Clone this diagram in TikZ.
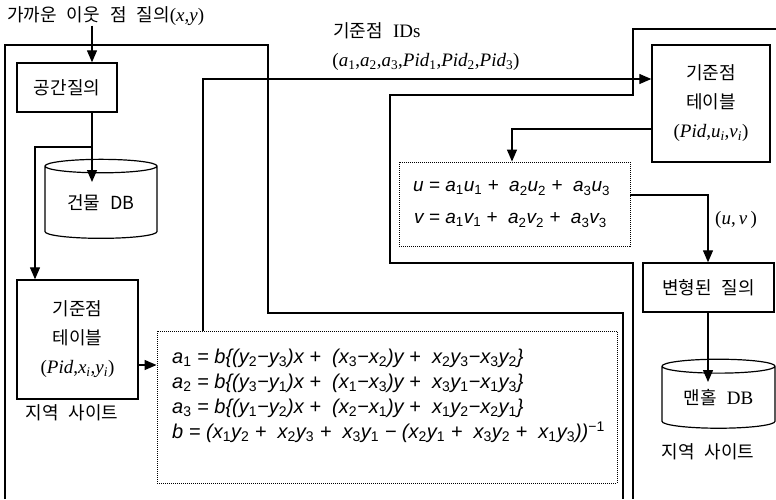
\documentclass[tikz,border=0pt]{standalone}
\usepackage{fontspec}
\setmainfont{Liberation Serif}
\newfontfamily\krf[WordSpace=2.5]{Noto Sans CJK KR}
\newfontfamily\sff{Liberation Sans}
\usetikzlibrary{arrows.meta,shapes.geometric,calc}
\newcommand\sbx[1]{\textsubscript{\upshape #1}}
\newcommand\sbi[1]{\textsubscript{#1}}
\newcommand\tms{\rmfamily\fontsize{19}{29}\selectfont}
\begin{document}
\begin{tikzpicture}[x=1pt,y=-1pt,
  kr/.style={font=\krf\fontsize{18}{29}\selectfont},
  box/.style={draw, line width=1.4pt, inner sep=0pt},
  dbox/.style={draw, line width=0.9pt, dash pattern=on 1pt off 1pt},
  fr/.style={line width=1.1pt},
  ln/.style={line width=1.3pt},
  arr/.style={ln, -{Triangle[length=12pt,width=10pt]}},
  dbcyl/.style={cylinder, shape border rotate=90, draw, line width=1.2pt, aspect=0.2, inner sep=0pt},
  fml/.style={font=\sff\itshape\fontsize{20}{25}\selectfont, align=left, inner sep=0pt},
  lab/.style={font=\rmfamily\fontsize{19}{22}\selectfont, inner sep=0pt}
]
\useasboundingbox (0,0) rectangle (776,499);

% site frames
\draw[fr] (5,499) -- (5,45) -- (268,45) -- (268,313) -- (623,313) -- (623,499);
\draw[fr] (776,29) -- (633,29) -- (633,95) -- (390,95) -- (390,263) -- (633,263) -- (633,499);

% nodes
\node[kr, anchor=west, inner sep=0pt] (qtext) at (7,16) {가까운 이웃 점 질의{\tms(\textit{x},\textit{y})}};
\node[box, kr, minimum width=100pt, minimum height=49pt] (sq) at (67,87.5) {공간질의};
\node[dbcyl, kr, minimum width=112pt, minimum height=79pt] (db1) at (101,202.5) {건물 DB};
\node[box, kr, align=center, minimum width=121pt, minimum height=119pt] (ltab) at (77.5,339.5)
  {기준점\\테이블\\{\tms(\textit{Pid},\textit{x}\sbi{\textit{i}},\textit{y}\sbi{\textit{i}})}};
\node[kr] (site1) at (72,413) {지역 사이트};

\node[dbox, minimum width=460pt, minimum height=152pt] (fa) at (387,407) {};
\node[fml, anchor=west] (fatext) at (172,396) {%
a\sbx{1} = b\{(y\sbx{2}−y\sbx{3})x +\ \ (x\sbx{3}−x\sbx{2})y +\ \ x\sbx{2}y\sbx{3}−x\sbx{3}y\sbx{2}\}\\
a\sbx{2} = b\{(y\sbx{3}−y\sbx{1})x +\ \ (x\sbx{1}−x\sbx{3})y +\ \ x\sbx{3}y\sbx{1}−x\sbx{1}y\sbx{3}\}\\
a\sbx{3} = b\{(y\sbx{1}−y\sbx{2})x +\ \ (x\sbx{2}−x\sbx{1})y +\ \ x\sbx{1}y\sbx{2}−x\sbx{2}y\sbx{1}\}\\
b = (x\sbx{1}y\sbx{2} +\ \ x\sbx{2}y\sbx{3} +\ \ x\sbx{3}y\sbx{1} − (x\sbx{2}y\sbx{1} +\ \ x\sbx{3}y\sbx{2} +\ \ x\sbx{1}y\sbx{3}))\textsuperscript{\upshape −1}};

\node[box, kr, align=center, minimum width=118pt, minimum height=117pt] (rtab) at (711,103.5)
  {기준점\\테이블\\{\tms(\textit{Pid},\textit{u}\sbi{\textit{i}},\textit{v}\sbi{\textit{i}})}};
\node[dbox, minimum width=231pt, minimum height=84pt] (uv) at (514.5,204) {};
\node[fml, anchor=west, font=\sff\itshape\fontsize{19}{32}\selectfont] (uvtext) at (414,204) {%
\hphantom{v}\llap{u} = a\sbx{1}u\sbx{1} +\ \ a\sbx{2}u\sbx{2} +\ \ a\sbx{3}u\sbx{3}\\
\hphantom{v}\llap{v} = a\sbx{1}v\sbx{1} +\ \ a\sbx{2}v\sbx{2} +\ \ a\sbx{3}v\sbx{3}};
\node[box, kr, minimum width=131pt, minimum height=49pt] (mq) at (708.5,287.5) {변형된 질의};
\node[dbcyl, kr, minimum width=113pt, minimum height=69pt] (db2) at (718.5,397.5) {맨홀 {\tms DB}};
\node[kr] (site2) at (708,452) {지역 사이트};

\node[kr, inner sep=0pt] (idlab) at (377,31) {기준점 {\tms IDs}};
\node[lab] (alab) at (426,62) {(\textit{a}\sbx{1},\textit{a}\sbx{2},\textit{a}\sbx{3},\textit{Pid}\sbx{1},\textit{Pid}\sbx{2},\textit{Pid}\sbx{3})};
\node[lab] (uvlab) at (736,220) {(\textit{u},\,\textit{v}\,)};

% helper coordinates
\coordinate (sqx) at (92,0);
\coordinate (br) at (92,147);
\coordinate (db1in) at (92,182);
\coordinate (lx) at (35,0);
\coordinate (ay) at (0,365);
\coordinate (fx) at (203,0);
\coordinate (ry) at (0,79);
\coordinate (uy) at (0,129);
\coordinate (ux) at (512,0);
\coordinate (vy) at (0,195);
\coordinate (mx) at (708,0);
\coordinate (db2in) at (708,382);

% connectors
\draw[arr] (qtext.south -| sqx) -- (sq.north -| sqx);
\draw[arr] (sq.south -| sqx) -- (db1in);
\draw[arr] (br) -| (ltab.north -| lx);
\draw[arr] (ltab.east |- ay) -- (fa.west |- ay);
\draw[arr] (fa.north -| fx) |- (rtab.west |- ry);
\draw[arr] (rtab.west |- uy) -| (uv.north -| ux);
\draw[arr] (uv.east |- vy) -| (mq.north -| mx);
\draw[arr] (mq.south -| mx) -- (db2in);
\end{tikzpicture}
\end{document}
